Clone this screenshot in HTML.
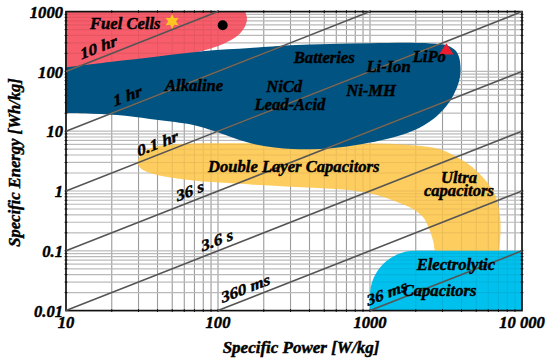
<!DOCTYPE html>
<html><head><meta charset="utf-8"><style>
html,body{margin:0;padding:0;background:#fff;width:550px;height:362px;overflow:hidden}
svg{display:block}
</style></head><body>
<svg width="550" height="362" viewBox="0 0 550 362">
<rect width="550" height="362" fill="#fff"/>
<path d="M111.76,11.6V310.6M138.52,11.6V310.6M157.51,11.6V310.6M172.24,11.6V310.6M184.28,11.6V310.6M194.45,11.6V310.6M203.27,11.6V310.6M211.04,11.6V310.6M263.76,11.6V310.6M290.52,11.6V310.6M309.51,11.6V310.6M324.24,11.6V310.6M336.28,11.6V310.6M346.45,11.6V310.6M355.27,11.6V310.6M363.04,11.6V310.6M218.00,11.6V310.6M415.76,11.6V310.6M442.52,11.6V310.6M461.51,11.6V310.6M476.24,11.6V310.6M488.28,11.6V310.6M498.45,11.6V310.6M507.27,11.6V310.6M515.04,11.6V310.6M370.00,11.6V310.6" stroke="#a8a8a8" stroke-width="1.1" fill="none"/>
<path d="M66.0,292.60H522.0M66.0,282.07H522.0M66.0,274.60H522.0M66.0,268.80H522.0M66.0,264.07H522.0M66.0,260.06H522.0M66.0,256.60H522.0M66.0,253.54H522.0M66.0,250.80H522.0M66.0,232.80H522.0M66.0,222.27H522.0M66.0,214.80H522.0M66.0,209.00H522.0M66.0,204.27H522.0M66.0,200.26H522.0M66.0,196.80H522.0M66.0,193.74H522.0M66.0,191.00H522.0M66.0,173.00H522.0M66.0,162.47H522.0M66.0,155.00H522.0M66.0,149.20H522.0M66.0,144.47H522.0M66.0,140.46H522.0M66.0,137.00H522.0M66.0,133.94H522.0M66.0,131.20H522.0M66.0,113.20H522.0M66.0,102.67H522.0M66.0,95.20H522.0M66.0,89.40H522.0M66.0,84.67H522.0M66.0,80.66H522.0M66.0,77.20H522.0M66.0,74.14H522.0M66.0,71.40H522.0M66.0,53.40H522.0M66.0,42.87H522.0M66.0,35.40H522.0M66.0,29.60H522.0M66.0,24.87H522.0M66.0,20.86H522.0M66.0,17.40H522.0M66.0,14.34H522.0" stroke="#c8c8c8" stroke-width="1.2" fill="none"/>
<path d="M65.0,11.6 L245.2,11.6 C245.47,12.50 246.57,15.27 246.80,17.00C247.03,18.73 246.97,20.28 246.60,22.00C246.23,23.72 245.63,25.48 244.60,27.30C243.57,29.12 242.25,31.05 240.40,32.90C238.55,34.75 236.40,36.57 233.50,38.40C230.60,40.23 226.58,42.30 223.00,43.90C219.42,45.50 215.83,46.73 212.00,48.00C208.17,49.27 204.50,50.42 200.00,51.50C195.50,52.58 187.50,54.00 185.00,54.50 L150,60 L65.0,70 Z" fill="#f85d6b"/>
<path d="M434.80,252.00C434.77,251.63 434.85,251.55 434.60,249.80C434.35,248.05 433.93,244.27 433.30,241.50C432.67,238.73 431.77,235.97 430.80,233.20C429.83,230.43 428.88,227.67 427.50,224.90C426.12,222.13 424.92,219.25 422.50,216.60C420.08,213.95 416.63,211.20 413.00,209.00C409.37,206.80 406.70,205.73 400.70,203.40C394.70,201.07 385.30,197.18 377.00,195.00C368.70,192.82 360.73,191.47 350.90,190.30C341.07,189.13 328.92,188.65 318.00,188.00C307.08,187.35 296.28,186.95 285.40,186.40C274.52,185.85 263.43,185.33 252.70,184.70C241.97,184.07 229.33,183.15 221.00,182.60C212.67,182.05 208.78,181.92 202.70,181.40C196.62,180.88 190.62,180.27 184.50,179.50C178.38,178.73 170.58,177.55 166.00,176.80C161.42,176.05 160.00,175.75 157.00,175.00C154.00,174.25 150.67,173.37 148.00,172.30C145.33,171.23 142.73,170.27 141.00,168.60C139.27,166.93 137.60,164.57 137.60,162.30C137.60,160.03 139.27,157.13 141.00,155.00C142.73,152.87 145.33,150.95 148.00,149.50C150.67,148.05 154.00,147.05 157.00,146.30C160.00,145.55 161.42,145.43 166.00,145.00C170.58,144.57 178.38,144.00 184.50,143.70C190.62,143.40 196.62,143.28 202.70,143.20C208.78,143.12 211.45,143.18 221.00,143.20C230.55,143.22 246.83,143.27 260.00,143.30C273.17,143.33 286.67,143.37 300.00,143.40C313.33,143.43 326.67,143.47 340.00,143.50C353.33,143.53 367.57,143.28 380.00,143.60C392.43,143.92 404.60,144.45 414.60,145.40C424.60,146.35 431.53,146.52 440.00,149.30C448.47,152.08 458.97,158.13 465.40,162.10C471.83,166.07 474.73,169.42 478.60,173.10C482.47,176.78 485.83,180.52 488.60,184.20C491.37,187.88 493.55,191.52 495.20,195.20C496.85,198.88 497.65,202.23 498.50,206.30C499.35,210.37 499.97,215.32 500.30,219.60C500.63,223.88 500.58,227.77 500.50,232.00C500.42,236.23 500.00,241.67 499.80,245.00C499.60,248.33 499.38,250.83 499.30,252.00Z" fill="#fecd5f"/>
<path d="M370,311.1 L370,295.8 A45,45 0 0 1 415,250.8 L522.0,250.8 L522.0,311.1 Z" fill="#00c0ed"/>
<path d="M111.76,11.6V310.6M138.52,11.6V310.6M157.51,11.6V310.6M172.24,11.6V310.6M184.28,11.6V310.6M194.45,11.6V310.6M203.27,11.6V310.6M211.04,11.6V310.6M263.76,11.6V310.6M290.52,11.6V310.6M309.51,11.6V310.6M324.24,11.6V310.6M336.28,11.6V310.6M346.45,11.6V310.6M355.27,11.6V310.6M363.04,11.6V310.6M218.00,11.6V310.6M415.76,11.6V310.6M442.52,11.6V310.6M461.51,11.6V310.6M476.24,11.6V310.6M488.28,11.6V310.6M498.45,11.6V310.6M507.27,11.6V310.6M515.04,11.6V310.6M370.00,11.6V310.6M66.0,292.60H522.0M66.0,282.07H522.0M66.0,274.60H522.0M66.0,268.80H522.0M66.0,264.07H522.0M66.0,260.06H522.0M66.0,256.60H522.0M66.0,253.54H522.0M66.0,250.80H522.0M66.0,232.80H522.0M66.0,222.27H522.0M66.0,214.80H522.0M66.0,209.00H522.0M66.0,204.27H522.0M66.0,200.26H522.0M66.0,196.80H522.0M66.0,193.74H522.0M66.0,191.00H522.0M66.0,173.00H522.0M66.0,162.47H522.0M66.0,155.00H522.0M66.0,149.20H522.0M66.0,144.47H522.0M66.0,140.46H522.0M66.0,137.00H522.0M66.0,133.94H522.0M66.0,131.20H522.0M66.0,113.20H522.0M66.0,102.67H522.0M66.0,95.20H522.0M66.0,89.40H522.0M66.0,84.67H522.0M66.0,80.66H522.0M66.0,77.20H522.0M66.0,74.14H522.0M66.0,71.40H522.0M66.0,53.40H522.0M66.0,42.87H522.0M66.0,35.40H522.0M66.0,29.60H522.0M66.0,24.87H522.0M66.0,20.86H522.0M66.0,17.40H522.0M66.0,14.34H522.0" stroke="rgba(0,0,0,0.07)" stroke-width="1.1" fill="none"/>
<path id="blu" d="M65.00,67.50C72.50,66.58 94.25,63.88 110.00,62.00C125.75,60.12 143.67,58.03 159.50,56.20C175.33,54.37 189.92,52.37 205.00,51.00C220.08,49.63 235.83,48.97 250.00,48.00C264.17,47.03 276.67,45.87 290.00,45.20C303.33,44.53 316.67,44.33 330.00,44.00C343.33,43.67 356.67,43.40 370.00,43.20C383.33,43.00 399.00,42.70 410.00,42.80C421.00,42.90 429.83,43.35 436.00,43.80C442.17,44.25 443.83,44.47 447.00,45.50C450.17,46.53 453.00,48.08 455.00,50.00C457.00,51.92 458.08,54.17 459.00,57.00C459.92,59.83 460.33,63.67 460.50,67.00C460.67,70.33 460.50,73.83 460.00,77.00C459.50,80.17 458.58,83.00 457.50,86.00C456.42,89.00 454.92,92.25 453.50,95.00C452.08,97.75 450.75,100.00 449.00,102.50C447.25,105.00 445.50,107.33 443.00,110.00C440.50,112.67 437.17,115.97 434.00,118.50C430.83,121.03 427.33,123.25 424.00,125.20C420.67,127.15 417.50,128.65 414.00,130.20C410.50,131.75 406.83,133.20 403.00,134.50C399.17,135.80 395.17,136.92 391.00,138.00C386.83,139.08 382.33,140.08 378.00,141.00C373.67,141.92 370.17,142.58 365.00,143.50C359.83,144.42 353.00,145.68 347.00,146.50C341.00,147.32 335.00,147.93 329.00,148.40C323.00,148.87 317.05,149.20 311.00,149.30C304.95,149.40 298.78,149.30 292.70,149.00C286.62,148.70 280.62,148.25 274.50,147.50C268.38,146.75 262.08,145.83 256.00,144.50C249.92,143.17 245.03,141.75 238.00,139.50C230.97,137.25 221.63,133.50 213.80,131.00C205.97,128.50 200.27,126.33 191.00,124.50C181.73,122.67 169.13,121.47 158.20,120.00C147.27,118.53 136.32,116.75 125.40,115.70C114.48,114.65 102.77,114.15 92.70,113.70C82.63,113.25 69.62,113.12 65.00,113.00Z" fill="#015381"/>
<rect x="66.0" y="11.6" width="456.0" height="299.0" fill="none" stroke="#111" stroke-width="1.7"/>
<path d="M111.76,10.2v2.8M111.76,309.20000000000005v2.8M138.52,10.2v2.8M138.52,309.20000000000005v2.8M157.51,10.2v2.8M157.51,309.20000000000005v2.8M172.24,10.2v2.8M172.24,309.20000000000005v2.8M184.28,10.2v2.8M184.28,309.20000000000005v2.8M194.45,10.2v2.8M194.45,309.20000000000005v2.8M203.27,10.2v2.8M203.27,309.20000000000005v2.8M211.04,10.2v2.8M211.04,309.20000000000005v2.8M218.00,10.2v2.8M218.00,309.20000000000005v2.8M263.76,10.2v2.8M263.76,309.20000000000005v2.8M290.52,10.2v2.8M290.52,309.20000000000005v2.8M309.51,10.2v2.8M309.51,309.20000000000005v2.8M324.24,10.2v2.8M324.24,309.20000000000005v2.8M336.28,10.2v2.8M336.28,309.20000000000005v2.8M346.45,10.2v2.8M346.45,309.20000000000005v2.8M355.27,10.2v2.8M355.27,309.20000000000005v2.8M363.04,10.2v2.8M363.04,309.20000000000005v2.8M370.00,10.2v2.8M370.00,309.20000000000005v2.8M415.76,10.2v2.8M415.76,309.20000000000005v2.8M442.52,10.2v2.8M442.52,309.20000000000005v2.8M461.51,10.2v2.8M461.51,309.20000000000005v2.8M476.24,10.2v2.8M476.24,309.20000000000005v2.8M488.28,10.2v2.8M488.28,309.20000000000005v2.8M498.45,10.2v2.8M498.45,309.20000000000005v2.8M507.27,10.2v2.8M507.27,309.20000000000005v2.8M515.04,10.2v2.8M515.04,309.20000000000005v2.8M64.6,292.60h2.8M520.6,292.60h2.8M64.6,282.07h2.8M520.6,282.07h2.8M64.6,274.60h2.8M520.6,274.60h2.8M64.6,268.80h2.8M520.6,268.80h2.8M64.6,264.07h2.8M520.6,264.07h2.8M64.6,260.06h2.8M520.6,260.06h2.8M64.6,256.60h2.8M520.6,256.60h2.8M64.6,253.54h2.8M520.6,253.54h2.8M64.6,250.80h2.8M520.6,250.80h2.8M64.6,232.80h2.8M520.6,232.80h2.8M64.6,222.27h2.8M520.6,222.27h2.8M64.6,214.80h2.8M520.6,214.80h2.8M64.6,209.00h2.8M520.6,209.00h2.8M64.6,204.27h2.8M520.6,204.27h2.8M64.6,200.26h2.8M520.6,200.26h2.8M64.6,196.80h2.8M520.6,196.80h2.8M64.6,193.74h2.8M520.6,193.74h2.8M64.6,191.00h2.8M520.6,191.00h2.8M64.6,173.00h2.8M520.6,173.00h2.8M64.6,162.47h2.8M520.6,162.47h2.8M64.6,155.00h2.8M520.6,155.00h2.8M64.6,149.20h2.8M520.6,149.20h2.8M64.6,144.47h2.8M520.6,144.47h2.8M64.6,140.46h2.8M520.6,140.46h2.8M64.6,137.00h2.8M520.6,137.00h2.8M64.6,133.94h2.8M520.6,133.94h2.8M64.6,131.20h2.8M520.6,131.20h2.8M64.6,113.20h2.8M520.6,113.20h2.8M64.6,102.67h2.8M520.6,102.67h2.8M64.6,95.20h2.8M520.6,95.20h2.8M64.6,89.40h2.8M520.6,89.40h2.8M64.6,84.67h2.8M520.6,84.67h2.8M64.6,80.66h2.8M520.6,80.66h2.8M64.6,77.20h2.8M520.6,77.20h2.8M64.6,74.14h2.8M520.6,74.14h2.8M64.6,71.40h2.8M520.6,71.40h2.8M64.6,53.40h2.8M520.6,53.40h2.8M64.6,42.87h2.8M520.6,42.87h2.8M64.6,35.40h2.8M520.6,35.40h2.8M64.6,29.60h2.8M520.6,29.60h2.8M64.6,24.87h2.8M520.6,24.87h2.8M64.6,20.86h2.8M520.6,20.86h2.8M64.6,17.40h2.8M520.6,17.40h2.8M64.6,14.34h2.8M520.6,14.34h2.8" stroke="#111" stroke-width="1" fill="none"/>
<path d="M66.00,71.40L218.00,11.60M66.00,131.20L370.00,11.60M66.00,191.00L522.00,11.60M66.00,250.80L522.00,71.40M66.00,310.60L522.00,131.20M218.00,310.60L522.00,191.00M370.00,310.60L522.00,250.80" stroke="#555" stroke-width="1.6" fill="none"/>
<clipPath id="cb"><path d="M65.00,67.50C72.50,66.58 94.25,63.88 110.00,62.00C125.75,60.12 143.67,58.03 159.50,56.20C175.33,54.37 189.92,52.37 205.00,51.00C220.08,49.63 235.83,48.97 250.00,48.00C264.17,47.03 276.67,45.87 290.00,45.20C303.33,44.53 316.67,44.33 330.00,44.00C343.33,43.67 356.67,43.40 370.00,43.20C383.33,43.00 399.00,42.70 410.00,42.80C421.00,42.90 429.83,43.35 436.00,43.80C442.17,44.25 443.83,44.47 447.00,45.50C450.17,46.53 453.00,48.08 455.00,50.00C457.00,51.92 458.08,54.17 459.00,57.00C459.92,59.83 460.33,63.67 460.50,67.00C460.67,70.33 460.50,73.83 460.00,77.00C459.50,80.17 458.58,83.00 457.50,86.00C456.42,89.00 454.92,92.25 453.50,95.00C452.08,97.75 450.75,100.00 449.00,102.50C447.25,105.00 445.50,107.33 443.00,110.00C440.50,112.67 437.17,115.97 434.00,118.50C430.83,121.03 427.33,123.25 424.00,125.20C420.67,127.15 417.50,128.65 414.00,130.20C410.50,131.75 406.83,133.20 403.00,134.50C399.17,135.80 395.17,136.92 391.00,138.00C386.83,139.08 382.33,140.08 378.00,141.00C373.67,141.92 370.17,142.58 365.00,143.50C359.83,144.42 353.00,145.68 347.00,146.50C341.00,147.32 335.00,147.93 329.00,148.40C323.00,148.87 317.05,149.20 311.00,149.30C304.95,149.40 298.78,149.30 292.70,149.00C286.62,148.70 280.62,148.25 274.50,147.50C268.38,146.75 262.08,145.83 256.00,144.50C249.92,143.17 245.03,141.75 238.00,139.50C230.97,137.25 221.63,133.50 213.80,131.00C205.97,128.50 200.27,126.33 191.00,124.50C181.73,122.67 169.13,121.47 158.20,120.00C147.27,118.53 136.32,116.75 125.40,115.70C114.48,114.65 102.77,114.15 92.70,113.70C82.63,113.25 69.62,113.12 65.00,113.00Z"/></clipPath>
<path d="M66.00,71.40L218.00,11.60M66.00,131.20L370.00,11.60M66.00,191.00L522.00,11.60M66.00,250.80L522.00,71.40M66.00,310.60L522.00,131.20M218.00,310.60L522.00,191.00M370.00,310.60L522.00,250.80" stroke="#7d6d58" stroke-width="1.0" fill="none" clip-path="url(#cb)"/>
<circle cx="222.7" cy="25.3" r="5" fill="#000"/>
<polygon points="172.10,13.90 174.10,17.94 178.60,17.65 176.10,21.40 178.60,25.15 174.10,24.86 172.10,28.90 170.10,24.86 165.60,25.15 168.10,21.40 165.60,17.65 170.10,17.94" fill="#fdc521"/>
<polygon points="446.4,43.2 439,54.6 453.6,54.6" fill="#ee1c2c"/>
<text x="63" y="17.700000000000024" font-family="Liberation Serif" font-weight="bold" font-style="italic" stroke="#000" stroke-width="0.45" font-size="16.6" text-anchor="end">1000</text>
<text x="63" y="77.50000000000003" font-family="Liberation Serif" font-weight="bold" font-style="italic" stroke="#000" stroke-width="0.45" font-size="16.6" text-anchor="end">100</text>
<text x="63" y="137.30000000000004" font-family="Liberation Serif" font-weight="bold" font-style="italic" stroke="#000" stroke-width="0.45" font-size="16.6" text-anchor="end">10</text>
<text x="63" y="197.10000000000002" font-family="Liberation Serif" font-weight="bold" font-style="italic" stroke="#000" stroke-width="0.45" font-size="16.6" text-anchor="end">1</text>
<text x="63" y="256.90000000000003" font-family="Liberation Serif" font-weight="bold" font-style="italic" stroke="#000" stroke-width="0.45" font-size="16.6" text-anchor="end">0.1</text>
<text x="63" y="316.70000000000005" font-family="Liberation Serif" font-weight="bold" font-style="italic" stroke="#000" stroke-width="0.45" font-size="16.6" text-anchor="end">0.01</text>
<text x="66.0" y="328" font-family="Liberation Serif" font-weight="bold" font-style="italic" stroke="#000" stroke-width="0.45" font-size="16.6" text-anchor="middle">10</text>
<text x="218.0" y="328" font-family="Liberation Serif" font-weight="bold" font-style="italic" stroke="#000" stroke-width="0.45" font-size="16.6" text-anchor="middle">100</text>
<text x="370.0" y="328" font-family="Liberation Serif" font-weight="bold" font-style="italic" stroke="#000" stroke-width="0.45" font-size="16.6" text-anchor="middle">1000</text>
<text x="522.0" y="328" font-family="Liberation Serif" font-weight="bold" font-style="italic" stroke="#000" stroke-width="0.45" font-size="16.6" text-anchor="middle">10 000</text>
<text x="301" y="353" font-family="Liberation Serif" font-weight="bold" font-style="italic" stroke="#000" stroke-width="0.45" font-size="17" text-anchor="middle">Specific Power [W/kg]</text>
<text x="19.5" y="162.5" font-family="Liberation Serif" font-weight="bold" font-style="italic" stroke="#000" stroke-width="0.45" font-size="16.6" text-anchor="middle" transform="rotate(-90.00 19.5 162.5)">Specific Energy [Wh/kg]</text>
<text x="90" y="29.3" font-family="Liberation Serif" font-weight="bold" font-style="italic" stroke="#000" stroke-width="0.45" font-size="16.6" text-anchor="start">Fuel Cells</text>
<text x="293.8" y="62.7" font-family="Liberation Serif" font-weight="bold" font-style="italic" stroke="#000" stroke-width="0.45" font-size="16.6" text-anchor="start">Batteries</text>
<text x="366.4" y="72.3" font-family="Liberation Serif" font-weight="bold" font-style="italic" stroke="#000" stroke-width="0.45" font-size="16.6" text-anchor="start">Li-Ion</text>
<text x="412.7" y="62.3" font-family="Liberation Serif" font-weight="bold" font-style="italic" stroke="#000" stroke-width="0.45" font-size="16.6" text-anchor="start">LiPo</text>
<text x="266.2" y="91.8" font-family="Liberation Serif" font-weight="bold" font-style="italic" stroke="#000" stroke-width="0.45" font-size="16.6" text-anchor="start">NiCd</text>
<text x="254.4" y="110" font-family="Liberation Serif" font-weight="bold" font-style="italic" stroke="#000" stroke-width="0.45" font-size="16.6" text-anchor="start">Lead-Acid</text>
<text x="346.2" y="95.9" font-family="Liberation Serif" font-weight="bold" font-style="italic" stroke="#000" stroke-width="0.45" font-size="16.6" text-anchor="start">Ni-MH</text>
<text x="165" y="91" font-family="Liberation Serif" font-weight="bold" font-style="italic" stroke="#000" stroke-width="0.45" font-size="16.6" text-anchor="start">Alkaline</text>
<text x="208" y="171.5" font-family="Liberation Serif" font-weight="bold" font-style="italic" stroke="#000" stroke-width="0.45" font-size="16.6" text-anchor="start">Double Layer Capacitors</text>
<text x="441" y="182.7" font-family="Liberation Serif" font-weight="bold" font-style="italic" stroke="#000" stroke-width="0.45" font-size="16.6" text-anchor="start">Ultra</text>
<text x="423.9" y="196.1" font-family="Liberation Serif" font-weight="bold" font-style="italic" stroke="#000" stroke-width="0.45" font-size="16.6" text-anchor="start">capacitors</text>
<text x="416.7" y="269.6" font-family="Liberation Serif" font-weight="bold" font-style="italic" stroke="#000" stroke-width="0.45" font-size="16.6" text-anchor="start">Electrolytic</text>
<text x="402.7" y="295.5" font-family="Liberation Serif" font-weight="bold" font-style="italic" stroke="#000" stroke-width="0.45" font-size="16.6" text-anchor="start">Capacitors</text>
<text transform="translate(81.5 59.5) skewY(-21.48) skewX(12)" font-family="Liberation Serif" font-weight="bold" font-style="italic" stroke="#000" stroke-width="0.45" font-size="16.6">10 hr</text>
<text transform="translate(114.5 106.5) skewY(-21.48) skewX(12)" font-family="Liberation Serif" font-weight="bold" font-style="italic" stroke="#000" stroke-width="0.45" font-size="16.6">1 hr</text>
<text transform="translate(138.5 156.5) skewY(-21.48) skewX(12)" font-family="Liberation Serif" font-weight="bold" font-style="italic" stroke="#000" stroke-width="0.45" font-size="16.6">0.1 hr</text>
<text transform="translate(177.5 201.5) skewY(-21.48) skewX(12)" font-family="Liberation Serif" font-weight="bold" font-style="italic" stroke="#000" stroke-width="0.45" font-size="16.6">36 s</text>
<text transform="translate(202.5 251.5) skewY(-21.48) skewX(12)" font-family="Liberation Serif" font-weight="bold" font-style="italic" stroke="#000" stroke-width="0.45" font-size="16.6">3.6 s</text>
<text transform="translate(222.5 303) skewY(-21.48) skewX(12)" font-family="Liberation Serif" font-weight="bold" font-style="italic" stroke="#000" stroke-width="0.45" font-size="16.6">360 ms</text>
<text transform="translate(368 306) skewY(-21.48) skewX(12)" font-family="Liberation Serif" font-weight="bold" font-style="italic" stroke="#000" stroke-width="0.45" font-size="16.6">36 ms</text>
</svg>
</body></html>
